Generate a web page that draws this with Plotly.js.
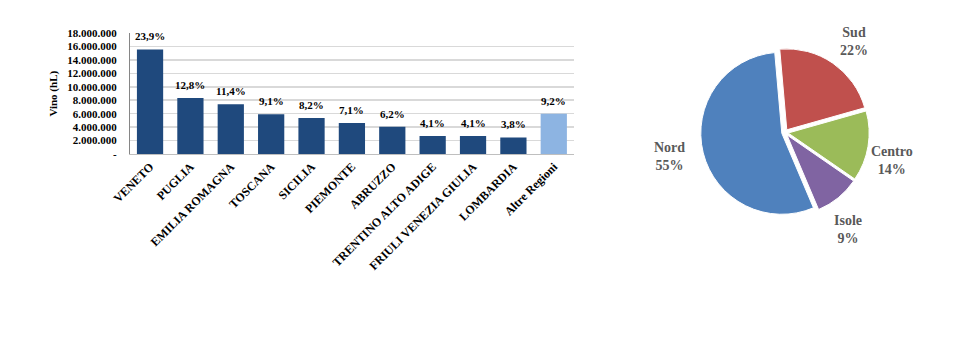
<!DOCTYPE html>
<html><head><meta charset="utf-8">
<script src="https://cdn.plot.ly/plotly-3.0.1.min.js"></script>
<style>html,body{margin:0;padding:0;background:#fff}#chart{width:959px;height:360px}</style>
</head><body><div id="chart"></div>
<script>
const regioni = ["VENETO","PUGLIA","EMILIA ROMAGNA","TOSCANA","SICILIA","PIEMONTE","ABRUZZO","TRENTINO ALTO ADIGE","FRIULI VENEZIA GIULIA","LOMBARDIA","Altre Regioni"];
const vino = [15560000,8330000,7420000,5920000,5340000,4620000,4040000,2670000,2670000,2470000,5990000];
const quote = ["23,9%","12,8%","11,4%","9,1%","8,2%","7,1%","6,2%","4,1%","4,1%","3,8%","9,2%"];
const barColors = ["#1F497D","#1F497D","#1F497D","#1F497D","#1F497D","#1F497D","#1F497D","#1F497D","#1F497D","#1F497D","#8DB4E2"];
const yTickVals = [0,2000000,4000000,6000000,8000000,10000000,12000000,14000000,16000000,18000000];
const yTickText = ["-","2.000.000","4.000.000","6.000.000","8.000.000","10.000.000","12.000.000","14.000.000","16.000.000","18.000.000"];
const yTitle = "Vino (hL)";
const aree = ["Nord","Sud","Centro","Isole"];
const areeQuote = [55,22,14,9];
const areeColors = ["#4F81BD","#C0504D","#9BBB59","#8064A2"];

// label placement for the pie (pixel positions, layout only)
const pieLabelPos = [[669,156],[854,41],[892,160],[848,230]];

const serif = "Liberation Serif";
const data = [
  {type:"bar", x:regioni, y:vino, marker:{color:barColors}, width:0.65, hoverinfo:"skip"},
  {type:"pie", labels:aree, values:areeQuote, sort:false, direction:"clockwise", rotation:157,
   marker:{colors:areeColors, line:{color:"#fff", width:1}}, pull:[0.04,0.04,0.04,0.04],
   textinfo:"none", showlegend:false,
   domain:{x:[0.722,0.915], y:[0.398,0.866]}, hoverinfo:"skip"}
];
const annotations = regioni.map((r,i)=>({x:r, y:vino[i], xref:"x", yref:"y", text:"<b>"+quote[i]+"</b>",
  showarrow:false, yanchor:"bottom", yshift:5, font:{family:serif, size:11, color:"#000"}}));
annotations.push({x:54/959, y:0.74, xref:"paper", yref:"paper", text:"<b>"+yTitle+"</b>", textangle:-90,
  showarrow:false, xanchor:"center", yanchor:"middle", font:{family:serif, size:11, color:"#000"}});
const tot = areeQuote.reduce((a,b)=>a+b,0);
aree.forEach((a,i)=>annotations.push({x:pieLabelPos[i][0]/959, y:1-pieLabelPos[i][1]/360, xref:"paper", yref:"paper",
  text:"<b>"+a+"</b><br><b>"+Math.round(areeQuote[i]/tot*100)+"%</b>", showarrow:false, xanchor:"center", yanchor:"middle",
  align:"center", font:{family:serif, size:14, color:"#595959"}}));
const layout = {
  width:959, height:360, margin:{l:0,r:0,t:0,b:0}, paper_bgcolor:"#fff", plot_bgcolor:"#fff",
  showlegend:false,
  font:{family:serif, size:11, color:"#000"},
  xaxis:{domain:[0.1354,0.5985], tickangle:-45, tickfont:{family:serif, size:12, color:"#000", weight:"bold"},
    showline:true, linecolor:"#bfbfbf", linewidth:1, showgrid:false, automargin:false, fixedrange:true},
  yaxis:{domain:[0.5722,0.9083], range:[0,18000000], tickvals:yTickVals, ticktext:yTickText,
    tickfont:{family:serif, size:11, color:"#000", weight:"bold"}, ticklabelstandoff:10,
    showline:true, linecolor:"#868686", linewidth:1, gridcolor:"#d9d9d9", gridwidth:1.5, zeroline:false,
    automargin:false, fixedrange:true},
  annotations: annotations
};
Plotly.newPlot("chart", data, layout, {displayModeBar:false, staticPlot:true});
</script></body></html>
